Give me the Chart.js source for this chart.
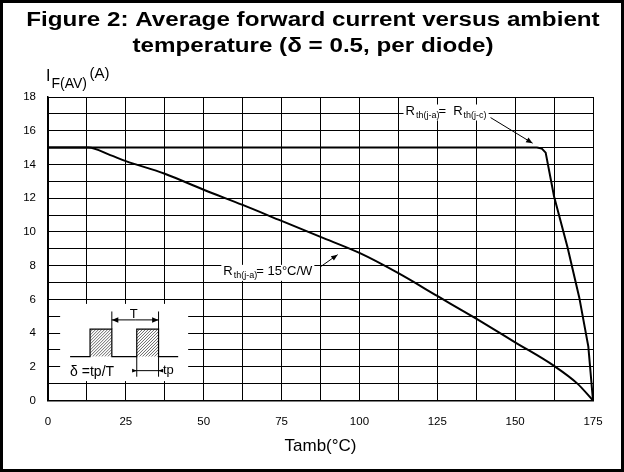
<!DOCTYPE html>
<html>
<head>
<meta charset="utf-8">
<script src="https://cdn.jsdelivr.net/npm/chart.js@4/dist/chart.umd.min.js"></script>
<style>
    html, body { margin: 0; padding: 0; background: #fff; }
    #wrap { width: 624px; height: 472px; }
</style>
</head>
<body>
<div id="wrap"><canvas id="chart"></canvas></div>
<script>
// Rth(j-a) = Rth(j-c)
const tempCase = [0, 157, 158.5, 159.8, 162.5, 166.8, 170.6, 173.5, 175];
const currCase = [15, 15, 14.95, 14.7, 12.1, 9.1, 6.1, 3.2, 0];

// Rth(j-a) = 15°C/W
const tempAmb = [0, 13, 20, 25, 37.5, 50, 62.5, 75, 87.5, 100, 112.5, 125, 137.5, 150, 162.5, 170, 175];
const currAmb = [15, 15, 14.55, 14.2, 13.45, 12.5, 11.6, 10.65, 9.7, 8.75, 7.55, 6.2, 4.85, 3.45, 2.05, 1.0, 0];

const xLabels = [0, 25, 50, 75, 100, 125, 150, 175];
const yLabels = [0, 2, 4, 6, 8, 10, 12, 14, 16, 18];
const titleLines = ['Figure 2: Average forward current versus ambient', 'temperature (δ = 0.5, per diode)'];

const FONT = "'Liberation Sans', Arial, sans-serif";

function toPoints(xs, ys) {
    return xs.map((x, i) => ({ x: x, y: ys[i] }));
}

function arrow(ctx, x1, y1, x2, y2, size) {
    ctx.beginPath();
    ctx.moveTo(x1, y1);
    ctx.lineTo(x2, y2);
    ctx.stroke();
    const a = Math.atan2(y2 - y1, x2 - x1);
    ctx.beginPath();
    ctx.moveTo(x2, y2);
    ctx.lineTo(x2 - size * Math.cos(a - 0.4), y2 - size * Math.sin(a - 0.4));
    ctx.lineTo(x2 - size * Math.cos(a + 0.4), y2 - size * Math.sin(a + 0.4));
    ctx.closePath();
    ctx.fill();
}

// draws text made of parts (normal + subscript), returns width
function drawParts(ctx, x, y, parts, measureOnly) {
    let cx = x;
    ctx.textAlign = 'left';
    ctx.textBaseline = 'middle';
    parts.forEach(p => {
        ctx.font = p.size + 'px ' + FONT;
        if (!measureOnly) ctx.fillText(p.text, cx, y + (p.dy || 0));
        cx += ctx.measureText(p.text).width + (p.gap || 0);
    });
    return cx - x;
}

function labelWithBg(ctx, x, y, parts) {
    const w = drawParts(ctx, x, y, parts, true);
    ctx.fillStyle = '#fff';
    ctx.fillRect(x - 2, y - 7, w + 4, 16);
    ctx.fillStyle = '#000';
    drawParts(ctx, x, y, parts, false);
}

const decor = {
    id: 'decor',
    beforeDraw(chart) {
        const ctx = chart.ctx;
        ctx.save();
        ctx.fillStyle = '#fff';
        ctx.fillRect(0, 0, chart.width, chart.height);
        ctx.restore();
    },
    afterDraw(chart) {
        const ctx = chart.ctx;
        const xs = chart.scales.x, ys = chart.scales.y;
        const px = v => xs.getPixelForValue(v);
        const py = v => ys.getPixelForValue(v);
        ctx.save();
        ctx.fillStyle = '#000';
        ctx.strokeStyle = '#000';

        // figure title, the original lettering is wide, so stretch it
        ctx.font = 'bold 20px ' + FONT;
        ctx.textAlign = 'center';
        ctx.textBaseline = 'alphabetic';
        titleLines.forEach((t, i) => {
            ctx.save();
            ctx.translate(313, 26 + i * 25.7);
            ctx.scale(1.21, 1);
            ctx.fillText(t, 0, 0);
            ctx.restore();
        });

        // y axis title  I F(AV) (A)
        ctx.textAlign = 'left';
        ctx.textBaseline = 'middle';
        ctx.font = '16px ' + FONT;
        ctx.fillText('I', 46, 77);
        ctx.font = '14px ' + FONT;
        ctx.fillText('F(AV)', 51.5, 84);
        ctx.font = '15px ' + FONT;
        ctx.fillText('(A)', 89.5, 74);

        // annotation: Rth(j-a) = Rth(j-c)
        const ax = px(114.8), ay = py(17.14);
        labelWithBg(ctx, ax, ay, [
            { text: 'R', size: 13, gap: 1 },
            { text: 'th(j-a)', size: 9, dy: 4, gap: -1 },
            { text: '=  R', size: 13, gap: 1 },
            { text: 'th(j-c)', size: 9, dy: 4 }
        ]);
        ctx.lineWidth = 1;
        arrow(ctx, px(142.1), py(16.78), px(155.6), py(15.26), 7);

        // annotation: Rth(j-a) = 15°C/W
        const bx = px(56.3), by = py(7.63);
        labelWithBg(ctx, bx, by, [
            { text: 'R', size: 13, gap: 1 },
            { text: 'th(j-a)', size: 9, dy: 4, gap: -1 },
            { text: '= 15°C/W', size: 13 }
        ]);
        arrow(ctx, px(87.5), py(7.93), px(93), py(8.65), 7);

        // inset: pulse diagram
        ctx.fillStyle = '#fff';
        ctx.fillRect(px(3.9), py(5.73), px(45) - px(3.9), py(1.15) - py(5.73));
        ctx.fillStyle = '#000';
        ctx.lineWidth = 1.2;
        const base = py(2.6), top = py(4.23);
        ctx.beginPath();
        ctx.moveTo(px(7.1), base); ctx.lineTo(px(13.5), base);
        ctx.lineTo(px(13.5), top); ctx.lineTo(px(20.5), top); ctx.lineTo(px(20.5), base);
        ctx.lineTo(px(28.5), base);
        ctx.lineTo(px(28.5), top); ctx.lineTo(px(35.5), top); ctx.lineTo(px(35.5), base);
        ctx.lineTo(px(41.8), base);
        ctx.stroke();

        // hatching inside pulses
        [[13.5, 20.5], [28.5, 35.5]].forEach(p => {
            const l = px(p[0]), r = px(p[1]);
            ctx.save();
            ctx.beginPath();
            ctx.rect(l, top, r - l, base - top);
            ctx.clip();
            ctx.lineWidth = 0.6;
            ctx.beginPath();
            for (let k = l - (base - top); k < r; k += 3) {
                ctx.moveTo(k, base);
                ctx.lineTo(k + (base - top), top);
            }
            ctx.stroke();
            ctx.restore();
        });

        // T marker
        ctx.lineWidth = 1;
        const tTop = py(5.28), tY = py(4.78);
        ctx.beginPath();
        ctx.moveTo(px(20.5), top); ctx.lineTo(px(20.5), tTop);
        ctx.moveTo(px(35.5), top); ctx.lineTo(px(35.5), tTop);
        ctx.stroke();
        const tMid = (px(20.5) + px(35.5)) / 2;
        arrow(ctx, tMid, tY, px(20.5), tY, 7);
        arrow(ctx, tMid, tY, px(35.5), tY, 7);
        ctx.font = '13px ' + FONT;
        ctx.textAlign = 'center';
        ctx.textBaseline = 'middle';
        ctx.fillText('T', px(27.5), py(5.12));

        // tp marker
        const tpBot = py(1.41), tpY = py(1.77);
        ctx.beginPath();
        ctx.moveTo(px(28.5), base); ctx.lineTo(px(28.5), tpBot);
        ctx.moveTo(px(35.5), base); ctx.lineTo(px(35.5), tpBot);
        ctx.moveTo(px(28.5), tpY); ctx.lineTo(px(35.5), tpY);
        ctx.stroke();
        arrow(ctx, px(27.2), tpY, px(28.5), tpY, 5);
        arrow(ctx, px(36.8), tpY, px(35.5), tpY, 5);
        ctx.textAlign = 'left';
        ctx.font = '13px ' + FONT;
        ctx.fillText('tp', px(36.9), tpY);
        ctx.font = '14px ' + FONT;
        ctx.fillText('δ =tp/T', px(7.1), py(1.7));

        // outer frame
        ctx.lineWidth = 3;
        ctx.strokeRect(1.5, 1.5, chart.width - 3, chart.height - 3);
        ctx.restore();
    }
};

const ctx = document.getElementById('chart').getContext('2d');
new Chart(ctx, {
    type: 'scatter',
    data: {
        datasets: [
            {
                label: 'Rth(j-a) = Rth(j-c)',
                data: toPoints(tempCase, currCase),
                showLine: true,
                borderColor: '#000',
                borderWidth: 2,
                pointRadius: 0,
                tension: 0
            },
            {
                label: 'Rth(j-a) = 15°C/W',
                data: toPoints(tempAmb, currAmb),
                showLine: true,
                borderColor: '#000',
                borderWidth: 2,
                pointRadius: 0,
                cubicInterpolationMode: 'monotone'
            }
        ]
    },
    options: {
        responsive: true,
        maintainAspectRatio: false,
        animation: false,
        layout: { padding: { left: 0, right: 31, top: 97, bottom: 0 } },
        plugins: {
            legend: { display: false },
            tooltip: { enabled: false },
            title: { display: false }
        },
        scales: {
            x: {
                type: 'linear',
                min: 0,
                max: 175,
                afterFit: scale => { scale.height = 71.5; },
                grid: { color: '#000', lineWidth: 1, drawTicks: false },
                border: { color: '#000', width: 1.5 },
                ticks: {
                    stepSize: 12.5,
                    autoSkip: false,
                    maxRotation: 0,
                    padding: 14,
                    color: '#000',
                    font: { family: FONT, size: 11.5 },
                    callback: v => xLabels.includes(v) ? v : ''
                },
                title: {
                    display: true,
                    text: 'Tamb(°C)',
                    color: '#000',
                    font: { family: FONT, size: 17 },
                    padding: { top: 4, bottom: 15 }
                }
            },
            y: {
                min: 0,
                max: 18,
                afterFit: scale => { scale.width = 48; },
                grid: { color: '#000', lineWidth: 1, drawTicks: false },
                border: { color: '#000', width: 1.5 },
                ticks: {
                    stepSize: 1,
                    autoSkip: false,
                    padding: 12,
                    color: '#000',
                    font: { family: FONT, size: 11.5 },
                    callback: v => yLabels.includes(v) ? v : ''
                }
            }
        }
    },
    plugins: [decor]
});
</script>
</body>
</html>
